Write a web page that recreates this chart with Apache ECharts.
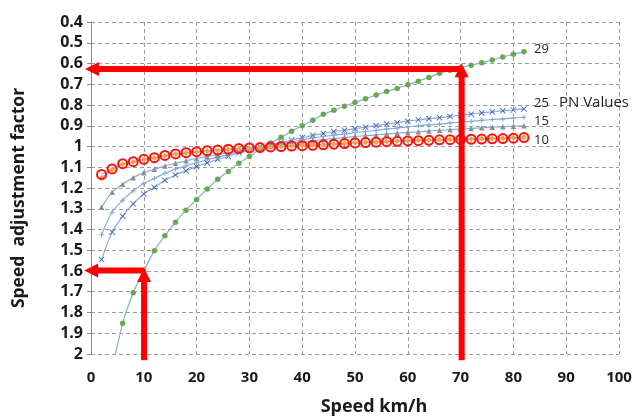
<!DOCTYPE html>
<html>
<head>
<meta charset="utf-8">
<script src="https://cdn.jsdelivr.net/npm/echarts@6/dist/echarts.min.js"></script>
<style>
  html, body { margin: 0; padding: 0; background: #ffffff; }
  #chart { width: 634px; height: 417px; }
</style>
</head>
<body>
<div id="chart"></div>
<script>
// Speed (km/h) at which each adjustment factor was evaluated
const speeds = [2, 4, 6, 8, 10, 12, 14, 16, 18, 20, 22, 24, 26, 28, 30, 32, 34, 36, 38, 40,
                42, 44, 46, 48, 50, 52, 54, 56, 58, 60, 62, 64, 66, 68, 70, 72, 74, 76, 78, 80, 82];

// Speed adjustment factor per PN value (null = not computed)
const pn29 = [null, 2.08, 1.852, 1.705, 1.60, 1.503, 1.43, 1.365, 1.307, 1.255, 1.205, 1.158, 1.12, 1.081,
              1.048, 1.012, 0.983, 0.956, 0.926, 0.90, 0.874, 0.845, 0.825, 0.806, 0.788, 0.77, 0.752,
              0.735, 0.72, 0.702, 0.685, 0.667, 0.647, 0.632, 0.62, 0.608, 0.596, 0.583, 0.569, 0.556, 0.543];
const pn25 = [1.545, 1.413, 1.336, 1.276, 1.229, 1.197, 1.163, 1.137, 1.117, 1.097, 1.079, 1.062, 1.048,
              1.03, 1.015, 1.0, 0.99, 0.98, 0.969, 0.957, 0.946, 0.937, 0.928, 0.922, 0.914, 0.907, 0.899,
              0.892, 0.885, 0.878, 0.871, 0.866, 0.861, 0.855, 0.849, 0.844, 0.838, 0.833, 0.828, 0.824, 0.819];
const pn15 = [1.425, 1.317, 1.259, 1.213, 1.178, 1.154, 1.129, 1.109, 1.093, 1.078, 1.064, 1.051, 1.039,
              1.026, 1.014, 1.002, 0.994, 0.985, 0.977, 0.968, 0.959, 0.952, 0.945, 0.94, 0.933, 0.928, 0.922,
              0.916, 0.911, 0.905, 0.9, 0.896, 0.892, 0.887, 0.883, 0.879, 0.874, 0.87, 0.867, 0.863, 0.859];
const pn12 = [1.293, 1.221, 1.182, 1.15, 1.126, 1.11, 1.094, 1.081, 1.069, 1.058, 1.048, 1.039, 1.03,
              1.021, 1.012, 1.004, 0.997, 0.99, 0.984, 0.978, 0.972, 0.967, 0.962, 0.957, 0.952, 0.948, 0.944,
              0.94, 0.936, 0.932, 0.929, 0.925, 0.922, 0.919, 0.916, 0.913, 0.91, 0.907, 0.905, 0.902, 0.9];
const pn11 = [1.152, 1.112, 1.085, 1.075, 1.063, 1.055, 1.044, 1.037, 1.031, 1.026, 1.022, 1.018, 1.014,
              1.011, 1.008, 1.005, 1.002, 0.999, 0.997, 0.995, 0.993, 0.99, 0.988, 0.985, 0.982, 0.98, 0.978,
              0.976, 0.974, 0.972, 0.97, 0.969, 0.967, 0.966, 0.965, 0.964, 0.962, 0.961, 0.96, 0.958, 0.955];
const pn10 = [1.135, 1.108, 1.083, 1.073, 1.062, 1.054, 1.043, 1.036, 1.03, 1.025, 1.021, 1.017, 1.013,
              1.01, 1.007, 1.005, 1.002, 1.0, 0.998, 0.996, 0.994, 0.992, 0.989, 0.986, 0.983, 0.981, 0.979,
              0.977, 0.975, 0.973, 0.972, 0.97, 0.968, 0.967, 0.966, 0.965, 0.964, 0.963, 0.962, 0.96, 0.957];

// Axis ticks
const xTicks = [0, 10, 20, 30, 40, 50, 60, 70, 80, 90, 100];
const yTicks = [0.4, 0.5, 0.6, 0.7, 0.8, 0.9, 1, 1.1, 1.2, 1.3, 1.4, 1.5, 1.6, 1.7, 1.8, 1.9, 2];

// Worked-example read-offs: [fromSpeed, fromFactor, tipSpeed, tipFactor]
const readOffs = [
  [70.2, 2.03, 70.2, 0.599],
  [70.2, 0.627, -1.15, 0.627],
  [10.05, 2.03, 10.05, 1.586],
  [10.05, 1.598, -1.3, 1.598]
];

const FONT = 'Open Sans';
const LINE_BLUE = '#86AEDD';

const toPoints = ys => speeds
  .map((x, i) => [x, ys[i]])
  .filter(p => p[1] !== null);

const crossPath = 'path://M0,1L1,0L5,4L9,0L10,1L6,5L10,9L9,10L5,6L1,10L0,9L4,5Z';
const plusPath = 'path://M4,0L6,0L6,4L10,4L10,6L6,6L6,10L4,10L4,6L0,6L0,4L4,4Z';

function curve(name, ys, marker, extra) {
  return Object.assign({
    name: name,
    type: 'line',
    data: toPoints(ys),
    smooth: 0.35,
    showSymbol: true,
    symbol: marker.symbol,
    symbolSize: marker.size,
    lineStyle: { color: LINE_BLUE, width: 1.2 },
    itemStyle: marker.style,
    emphasis: { disabled: true },
    silent: true
  }, extra || {});
}

function endText(text, offset) {
  return {
    show: true,
    formatter: text,
    distance: 0,
    offset: offset,
    fontFamily: FONT,
    fontSize: 13,
    color: '#222222',
    align: 'left',
    verticalAlign: 'middle'
  };
}

// Thick arrow: shaft plus triangular head whose tip sits on the second point
function renderArrow(params, api) {
  const from = api.coord([api.value(0), api.value(1)]);
  const tip = api.coord([api.value(2), api.value(3)]);
  const dx = tip[0] - from[0], dy = tip[1] - from[1];
  const len = Math.sqrt(dx * dx + dy * dy) || 1;
  const ux = dx / len, uy = dy / len;
  const headLen = 14, headHalf = 7;
  const base = [tip[0] - ux * headLen, tip[1] - uy * headLen];
  const nx = -uy, ny = ux;
  const red = '#FF0000';
  return {
    type: 'group',
    children: [
      {
        type: 'line',
        shape: { x1: from[0], y1: from[1], x2: base[0] + ux, y2: base[1] + uy },
        style: { stroke: red, lineWidth: 6, lineCap: 'butt' }
      },
      {
        type: 'polygon',
        shape: {
          points: [
            tip,
            [base[0] + nx * headHalf, base[1] + ny * headHalf],
            [base[0] - nx * headHalf, base[1] - ny * headHalf]
          ]
        },
        style: { fill: red }
      }
    ]
  };
}

const chart = echarts.init(document.getElementById('chart'), null, { renderer: 'canvas' });

chart.setOption({
  animation: false,
  backgroundColor: '#ffffff',
  grid: { left: 91, right: 15, top: 22, bottom: 63, containLabel: false, outerBoundsMode: 'none' },
  xAxis: {
    type: 'value',
    min: xTicks[0],
    max: xTicks[xTicks.length - 1],
    interval: xTicks[1] - xTicks[0],
    axisLine: { show: false, onZero: false },
    axisTick: { show: false },
    splitLine: { show: true, lineStyle: { color: '#9c9c9c', type: [4, 3], width: 1 } },
    axisLabel: { fontFamily: FONT, fontWeight: 'bold', fontSize: 15, color: '#1a1a1a', margin: 16 },
    name: 'Speed km/h',
    nameLocation: 'middle',
    nameGap: 44,
    nameTextStyle: { fontFamily: FONT, fontWeight: 'bold', fontSize: 18, color: '#1a1a1a', padding: [0, 0, 0, 38] }
  },
  yAxis: {
    type: 'value',
    inverse: true,
    min: yTicks[0],
    max: yTicks[yTicks.length - 1],
    interval: 0.1,
    axisLine: { show: true, onZero: false, lineStyle: { color: '#8a8a8a', width: 1 } },
    axisTick: { show: true, length: 4, lineStyle: { color: '#8a8a8a' } },
    splitLine: { show: true, lineStyle: { color: '#9c9c9c', type: [4, 3], width: 1 } },
    axisLabel: {
      fontFamily: FONT, fontWeight: 'bold', fontSize: 16, color: '#1a1a1a', margin: 8,
      formatter: v => String(+v.toFixed(1))
    },
    name: 'Speed  adjustment factor',
    nameLocation: 'middle',
    nameGap: 63,
    nameTextStyle: { fontFamily: FONT, fontWeight: 'bold', fontSize: 17.5, color: '#1a1a1a', padding: [0, 20, 0, 0] }
  },
  series: [
    curve('PN 29', pn29, { symbol: 'circle', size: 5.5, style: { color: '#6AA84F' } },
      { endLabel: endText('29', [10, -2]) }),
    curve('PN 25', pn25, { symbol: crossPath, size: 6, style: { color: '#3E62B4' } },
      {
        endLabel: Object.assign(endText('{a|25}   {b|PN Values}', [10, -6]), {
          rich: {
            a: { fontFamily: FONT, fontSize: 13, color: '#222222' },
            b: { fontFamily: FONT, fontSize: 15, color: '#222222' }
          }
        })
      }),
    curve('PN 15', pn15, { symbol: plusPath, size: 5, style: { color: '#7FA8DA' } },
      { endLabel: endText('15', [10, 4]) }),
    curve('PN 12', pn12, { symbol: 'triangle', size: 5.5, style: { color: '#8E8E8E' } }),
    curve('PN 11', pn11, { symbol: 'diamond', size: 6, style: { color: '#F2A33A' } }),
    curve('PN 10', pn10, {
      symbol: 'circle', size: 9,
      style: { color: 'rgba(0,0,0,0)', borderColor: '#FF1010', borderWidth: 2 }
    }, { endLabel: endText('10', [10, 3]) }),
    {
      name: 'read-off',
      type: 'custom',
      data: readOffs,
      encode: { x: [0, 2], y: [1, 3] },
      clip: false,
      silent: true,
      z: 10,
      renderItem: renderArrow
    }
  ]
});
</script>
</body>
</html>
